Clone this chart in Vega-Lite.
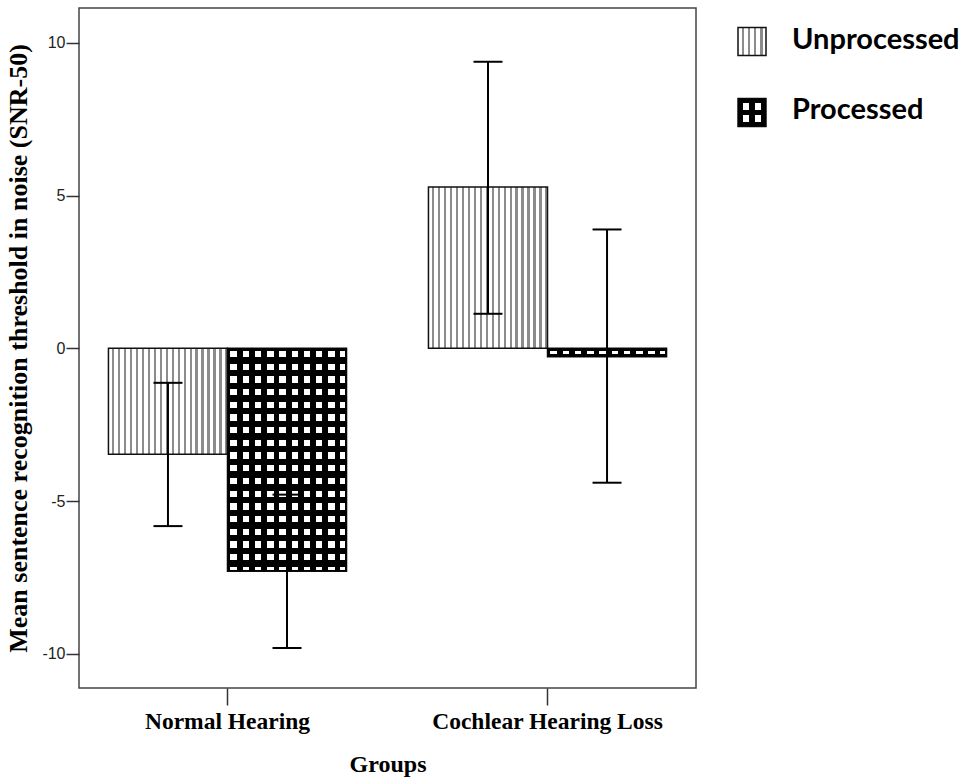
{
  "$schema": "https://vega.github.io/schema/vega-lite/v6.json",
  "background": "white",
  "padding": {"left": 5, "top": 7, "right": 0, "bottom": 0},
  "spacing": 19,
  "config": {
    "view": {"stroke": "#444", "strokeWidth": 1.5},
    "axisY": {
      "grid": false, "domain": false,
      "labelExpr": "'' + datum.value",
      "tickSize": 13, "tickColor": "#333", "tickWidth": 1.5,
      "labelPadding": 1, "labelFont": "Liberation Sans", "labelFontSize": 16, "labelColor": "#222",
      "titleFont": "Liberation Serif", "titleFontSize": 26, "titleFontWeight": "bold", "titleColor": "black",
      "titlePadding": 10
    },
    "axisX": {
      "labelAngle": 0, "domain": false, "labelLimit": 0,
      "tickSize": 17, "tickColor": "#333", "tickWidth": 1.5,
      "labelFont": "Liberation Serif", "labelFontSize": 23.5, "labelFontWeight": "bold", "labelColor": "black",
      "labelPadding": 4,
      "titleFont": "Liberation Serif", "titleFontSize": 24, "titleFontWeight": "bold", "titleColor": "black",
      "titlePadding": 20
    }
  },
  "hconcat": [
    {
      "width": 617,
      "height": 680,
      "data": {"values": [
        {"group": "Normal Hearing", "cond": "Unprocessed", "mean": -3.47, "lower": -5.82, "upper": -1.13},
        {"group": "Normal Hearing", "cond": "Processed", "mean": -7.30, "lower": -9.81, "upper": -4.79},
        {"group": "Cochlear Hearing Loss", "cond": "Unprocessed", "mean": 5.28, "lower": 1.13, "upper": 9.38},
        {"group": "Cochlear Hearing Loss", "cond": "Processed", "mean": -0.28, "lower": -4.40, "upper": 3.89}
      ]},
      "encoding": {
        "x": {
          "field": "group", "type": "nominal", "title": "Groups",
          "sort": ["Normal Hearing", "Cochlear Hearing Loss"],
          "scale": {"paddingInner": 0.256, "paddingOuter": 0.092}
        },
        "xOffset": {
          "field": "cond", "type": "nominal",
          "sort": ["Unprocessed", "Processed"],
          "scale": {"domain": ["Unprocessed", "Processed"], "paddingInner": 0, "paddingOuter": 0}
        }
      },
      "layer": [
        {
          "transform": [{"filter": "datum.cond === 'Unprocessed'"}],
          "mark": {
            "type": "bar", "stroke": "#111", "strokeWidth": 1.5,
            "fill": {"gradient": "linear", "x1": 0, "y1": 0, "x2": 1, "y2": 0, "stops": [
              {"offset": 0, "color": "#ffffff"}, {"offset": 0.031, "color": "#ffffff"}, {"offset": 0.031, "color": "#8c8c8c"}, {"offset": 0.05, "color": "#8c8c8c"},
              {"offset": 0.05, "color": "#ffffff"}, {"offset": 0.081, "color": "#ffffff"}, {"offset": 0.081, "color": "#8c8c8c"}, {"offset": 0.1, "color": "#8c8c8c"},
              {"offset": 0.1, "color": "#ffffff"}, {"offset": 0.131, "color": "#ffffff"}, {"offset": 0.131, "color": "#8c8c8c"}, {"offset": 0.15, "color": "#8c8c8c"},
              {"offset": 0.15, "color": "#ffffff"}, {"offset": 0.181, "color": "#ffffff"}, {"offset": 0.181, "color": "#8c8c8c"}, {"offset": 0.2, "color": "#8c8c8c"},
              {"offset": 0.2, "color": "#ffffff"}, {"offset": 0.231, "color": "#ffffff"}, {"offset": 0.231, "color": "#8c8c8c"}, {"offset": 0.25, "color": "#8c8c8c"},
              {"offset": 0.25, "color": "#ffffff"}, {"offset": 0.281, "color": "#ffffff"}, {"offset": 0.281, "color": "#8c8c8c"}, {"offset": 0.3, "color": "#8c8c8c"},
              {"offset": 0.3, "color": "#ffffff"}, {"offset": 0.331, "color": "#ffffff"}, {"offset": 0.331, "color": "#8c8c8c"}, {"offset": 0.35, "color": "#8c8c8c"},
              {"offset": 0.35, "color": "#ffffff"}, {"offset": 0.381, "color": "#ffffff"}, {"offset": 0.381, "color": "#8c8c8c"}, {"offset": 0.4, "color": "#8c8c8c"},
              {"offset": 0.4, "color": "#ffffff"}, {"offset": 0.431, "color": "#ffffff"}, {"offset": 0.431, "color": "#8c8c8c"}, {"offset": 0.45, "color": "#8c8c8c"},
              {"offset": 0.45, "color": "#ffffff"}, {"offset": 0.481, "color": "#ffffff"}, {"offset": 0.481, "color": "#8c8c8c"}, {"offset": 0.5, "color": "#8c8c8c"},
              {"offset": 0.5, "color": "#ffffff"}, {"offset": 0.531, "color": "#ffffff"}, {"offset": 0.531, "color": "#8c8c8c"}, {"offset": 0.55, "color": "#8c8c8c"},
              {"offset": 0.55, "color": "#ffffff"}, {"offset": 0.581, "color": "#ffffff"}, {"offset": 0.581, "color": "#8c8c8c"}, {"offset": 0.6, "color": "#8c8c8c"},
              {"offset": 0.6, "color": "#ffffff"}, {"offset": 0.631, "color": "#ffffff"}, {"offset": 0.631, "color": "#8c8c8c"}, {"offset": 0.65, "color": "#8c8c8c"},
              {"offset": 0.65, "color": "#ffffff"}, {"offset": 0.681, "color": "#ffffff"}, {"offset": 0.681, "color": "#8c8c8c"}, {"offset": 0.7, "color": "#8c8c8c"},
              {"offset": 0.7, "color": "#ffffff"}, {"offset": 0.731, "color": "#ffffff"}, {"offset": 0.731, "color": "#8c8c8c"}, {"offset": 0.75, "color": "#8c8c8c"},
              {"offset": 0.75, "color": "#ffffff"}, {"offset": 0.781, "color": "#ffffff"}, {"offset": 0.781, "color": "#8c8c8c"}, {"offset": 0.8, "color": "#8c8c8c"},
              {"offset": 0.8, "color": "#ffffff"}, {"offset": 0.831, "color": "#ffffff"}, {"offset": 0.831, "color": "#8c8c8c"}, {"offset": 0.85, "color": "#8c8c8c"},
              {"offset": 0.85, "color": "#ffffff"}, {"offset": 0.881, "color": "#ffffff"}, {"offset": 0.881, "color": "#8c8c8c"}, {"offset": 0.9, "color": "#8c8c8c"},
              {"offset": 0.9, "color": "#ffffff"}, {"offset": 0.931, "color": "#ffffff"}, {"offset": 0.931, "color": "#8c8c8c"}, {"offset": 0.95, "color": "#8c8c8c"},
              {"offset": 0.95, "color": "#ffffff"}, {"offset": 0.981, "color": "#ffffff"}, {"offset": 0.981, "color": "#8c8c8c"}, {"offset": 1, "color": "#8c8c8c"}
            ]}
          },
          "encoding": {
            "y": {
              "field": "mean", "type": "quantitative",
              "title": "Mean sentence recognition threshold in noise (SNR-50)",
              "scale": {"domain": [-11.12, 11.14], "nice": false, "zero": false},
              "axis": {"values": [-10, -5, 0, 5, 10]}
            },
            "y2": {"datum": 0}
          }
        },
        {
          "transform": [{"filter": "datum.cond === 'Processed'"}],
          "mark": {"type": "bar", "fill": "white", "stroke": "#111", "strokeWidth": 1.5},
          "encoding": {"y": {"field": "mean", "type": "quantitative", "title": "Mean sentence recognition threshold in noise (SNR-50)", "axis": {"values": [-10, -5, 0, 5, 10]}}, "y2": {"datum": 0}}
        },
        {
          "transform": [{"filter": "datum.cond === 'Processed'"}],
          "mark": {
            "type": "bar",
            "fill": {"gradient": "linear", "x1": 0, "y1": 0, "x2": 1, "y2": 0, "stops": [
              {"offset": 0, "color": "#000000"}, {"offset": 0.025, "color": "#000000"}, {"offset": 0.025, "color": "rgba(0,0,0,0)"}, {"offset": 0.08, "color": "rgba(0,0,0,0)"},
              {"offset": 0.08, "color": "#000000"}, {"offset": 0.128, "color": "#000000"}, {"offset": 0.128, "color": "rgba(0,0,0,0)"}, {"offset": 0.182, "color": "rgba(0,0,0,0)"},
              {"offset": 0.182, "color": "#000000"}, {"offset": 0.23, "color": "#000000"}, {"offset": 0.23, "color": "rgba(0,0,0,0)"}, {"offset": 0.285, "color": "rgba(0,0,0,0)"},
              {"offset": 0.285, "color": "#000000"}, {"offset": 0.333, "color": "#000000"}, {"offset": 0.333, "color": "rgba(0,0,0,0)"}, {"offset": 0.387, "color": "rgba(0,0,0,0)"},
              {"offset": 0.387, "color": "#000000"}, {"offset": 0.435, "color": "#000000"}, {"offset": 0.435, "color": "rgba(0,0,0,0)"}, {"offset": 0.49, "color": "rgba(0,0,0,0)"},
              {"offset": 0.49, "color": "#000000"}, {"offset": 0.538, "color": "#000000"}, {"offset": 0.538, "color": "rgba(0,0,0,0)"}, {"offset": 0.592, "color": "rgba(0,0,0,0)"},
              {"offset": 0.592, "color": "#000000"}, {"offset": 0.64, "color": "#000000"}, {"offset": 0.64, "color": "rgba(0,0,0,0)"}, {"offset": 0.695, "color": "rgba(0,0,0,0)"},
              {"offset": 0.695, "color": "#000000"}, {"offset": 0.743, "color": "#000000"}, {"offset": 0.743, "color": "rgba(0,0,0,0)"}, {"offset": 0.798, "color": "rgba(0,0,0,0)"},
              {"offset": 0.798, "color": "#000000"}, {"offset": 0.845, "color": "#000000"}, {"offset": 0.845, "color": "rgba(0,0,0,0)"}, {"offset": 0.9, "color": "rgba(0,0,0,0)"},
              {"offset": 0.9, "color": "#000000"}, {"offset": 0.948, "color": "#000000"}, {"offset": 0.948, "color": "rgba(0,0,0,0)"}, {"offset": 0.99, "color": "rgba(0,0,0,0)"},
              {"offset": 0.99, "color": "#000000"}, {"offset": 1, "color": "#000000"}
            ]}
          },
          "encoding": {"y": {"field": "mean", "type": "quantitative", "title": "Mean sentence recognition threshold in noise (SNR-50)", "axis": {"values": [-10, -5, 0, 5, 10]}}, "y2": {"datum": 0}}
        },
        {
          "transform": [{"filter": "datum.cond === 'Processed' && datum.group === 'Normal Hearing'"}],
          "mark": {
            "type": "bar",
            "fill": {"gradient": "linear", "x1": 0, "y1": 0, "x2": 0, "y2": 1, "stops": [
              {"offset": 0, "color": "#000000"}, {"offset": 0.0112, "color": "#000000"}, {"offset": 0.0112, "color": "rgba(0,0,0,0)"}, {"offset": 0.0395, "color": "rgba(0,0,0,0)"},
              {"offset": 0.0395, "color": "#000000"}, {"offset": 0.0682, "color": "#000000"}, {"offset": 0.0682, "color": "rgba(0,0,0,0)"}, {"offset": 0.0964, "color": "rgba(0,0,0,0)"},
              {"offset": 0.0964, "color": "#000000"}, {"offset": 0.1251, "color": "#000000"}, {"offset": 0.1251, "color": "rgba(0,0,0,0)"}, {"offset": 0.1534, "color": "rgba(0,0,0,0)"},
              {"offset": 0.1534, "color": "#000000"}, {"offset": 0.1821, "color": "#000000"}, {"offset": 0.1821, "color": "rgba(0,0,0,0)"}, {"offset": 0.2103, "color": "rgba(0,0,0,0)"},
              {"offset": 0.2103, "color": "#000000"}, {"offset": 0.239, "color": "#000000"}, {"offset": 0.239, "color": "rgba(0,0,0,0)"}, {"offset": 0.2673, "color": "rgba(0,0,0,0)"},
              {"offset": 0.2673, "color": "#000000"}, {"offset": 0.296, "color": "#000000"}, {"offset": 0.296, "color": "rgba(0,0,0,0)"}, {"offset": 0.3242, "color": "rgba(0,0,0,0)"},
              {"offset": 0.3242, "color": "#000000"}, {"offset": 0.3529, "color": "#000000"}, {"offset": 0.3529, "color": "rgba(0,0,0,0)"}, {"offset": 0.3812, "color": "rgba(0,0,0,0)"},
              {"offset": 0.3812, "color": "#000000"}, {"offset": 0.4099, "color": "#000000"}, {"offset": 0.4099, "color": "rgba(0,0,0,0)"}, {"offset": 0.4381, "color": "rgba(0,0,0,0)"},
              {"offset": 0.4381, "color": "#000000"}, {"offset": 0.4668, "color": "#000000"}, {"offset": 0.4668, "color": "rgba(0,0,0,0)"}, {"offset": 0.4951, "color": "rgba(0,0,0,0)"},
              {"offset": 0.4951, "color": "#000000"}, {"offset": 0.5238, "color": "#000000"}, {"offset": 0.5238, "color": "rgba(0,0,0,0)"}, {"offset": 0.552, "color": "rgba(0,0,0,0)"},
              {"offset": 0.552, "color": "#000000"}, {"offset": 0.5807, "color": "#000000"}, {"offset": 0.5807, "color": "rgba(0,0,0,0)"}, {"offset": 0.609, "color": "rgba(0,0,0,0)"},
              {"offset": 0.609, "color": "#000000"}, {"offset": 0.6377, "color": "#000000"}, {"offset": 0.6377, "color": "rgba(0,0,0,0)"}, {"offset": 0.6659, "color": "rgba(0,0,0,0)"},
              {"offset": 0.6659, "color": "#000000"}, {"offset": 0.6946, "color": "#000000"}, {"offset": 0.6946, "color": "rgba(0,0,0,0)"}, {"offset": 0.7229, "color": "rgba(0,0,0,0)"},
              {"offset": 0.7229, "color": "#000000"}, {"offset": 0.7516, "color": "#000000"}, {"offset": 0.7516, "color": "rgba(0,0,0,0)"}, {"offset": 0.7798, "color": "rgba(0,0,0,0)"},
              {"offset": 0.7798, "color": "#000000"}, {"offset": 0.8085, "color": "#000000"}, {"offset": 0.8085, "color": "rgba(0,0,0,0)"}, {"offset": 0.8368, "color": "rgba(0,0,0,0)"},
              {"offset": 0.8368, "color": "#000000"}, {"offset": 0.8655, "color": "#000000"}, {"offset": 0.8655, "color": "rgba(0,0,0,0)"}, {"offset": 0.8937, "color": "rgba(0,0,0,0)"},
              {"offset": 0.8937, "color": "#000000"}, {"offset": 0.9224, "color": "#000000"}, {"offset": 0.9224, "color": "rgba(0,0,0,0)"}, {"offset": 0.9507, "color": "rgba(0,0,0,0)"},
              {"offset": 0.9507, "color": "#000000"}, {"offset": 0.9794, "color": "#000000"}, {"offset": 0.9794, "color": "rgba(0,0,0,0)"}, {"offset": 0.995, "color": "rgba(0,0,0,0)"},
              {"offset": 0.995, "color": "#000000"}, {"offset": 1, "color": "#000000"}
            ]}
          },
          "encoding": {"y": {"field": "mean", "type": "quantitative", "title": "Mean sentence recognition threshold in noise (SNR-50)", "axis": {"values": [-10, -5, 0, 5, 10]}}, "y2": {"datum": 0}}
        },
        {
          "transform": [{"filter": "datum.cond === 'Processed' && datum.group === 'Cochlear Hearing Loss'"}],
          "mark": {
            "type": "bar",
            "fill": {"gradient": "linear", "x1": 0, "y1": 0, "x2": 0, "y2": 1, "stops": [
              {"offset": 0, "color": "#000000"}, {"offset": 0.36, "color": "#000000"}, {"offset": 0.36, "color": "rgba(0,0,0,0)"}, {"offset": 0.64, "color": "rgba(0,0,0,0)"},
              {"offset": 0.64, "color": "#000000"}, {"offset": 1, "color": "#000000"}
            ]}
          },
          "encoding": {"y": {"field": "mean", "type": "quantitative", "title": "Mean sentence recognition threshold in noise (SNR-50)", "axis": {"values": [-10, -5, 0, 5, 10]}}, "y2": {"datum": 0}}
        },
        {
          "mark": {"type": "rule", "color": "black", "strokeWidth": 2},
          "encoding": {"y": {"field": "lower", "type": "quantitative", "title": "Mean sentence recognition threshold in noise (SNR-50)", "axis": {"values": [-10, -5, 0, 5, 10]}}, "y2": {"field": "upper"}}
        },
        {
          "mark": {"type": "tick", "color": "black", "size": 29, "thickness": 2, "opacity": 1},
          "encoding": {"y": {"field": "lower", "type": "quantitative", "title": "Mean sentence recognition threshold in noise (SNR-50)", "axis": {"values": [-10, -5, 0, 5, 10]}}}
        },
        {
          "mark": {"type": "tick", "color": "black", "size": 29, "thickness": 2, "opacity": 1},
          "encoding": {"y": {"field": "upper", "type": "quantitative", "title": "Mean sentence recognition threshold in noise (SNR-50)", "axis": {"values": [-10, -5, 0, 5, 10]}}}
        }
      ]
    },
    {
      "width": 72,
      "height": 138,
      "view": {"stroke": null, "fill": "white"},
      "data": {"values": [{"cond": "Unprocessed"}, {"cond": "Processed"}]},
      "encoding": {
        "y": {"field": "cond", "type": "nominal", "sort": ["Unprocessed", "Processed"], "scale": {"type": "point", "padding": 0.472}, "axis": null}
      },
      "layer": [
        {
          "transform": [{"filter": "datum.cond === 'Unprocessed'"}],
          "mark": {
            "type": "square", "size": 784, "opacity": 1, "stroke": "#111", "strokeWidth": 1.5,
            "fill": {"gradient": "linear", "x1": 0, "y1": 0, "x2": 1, "y2": 0, "stops": [
              {"offset": 0, "color": "#ffffff"}, {"offset": 0.13, "color": "#ffffff"}, {"offset": 0.13, "color": "#8c8c8c"}, {"offset": 0.22, "color": "#8c8c8c"},
              {"offset": 0.22, "color": "#ffffff"}, {"offset": 0.35, "color": "#ffffff"}, {"offset": 0.35, "color": "#8c8c8c"}, {"offset": 0.44, "color": "#8c8c8c"},
              {"offset": 0.44, "color": "#ffffff"}, {"offset": 0.57, "color": "#ffffff"}, {"offset": 0.57, "color": "#8c8c8c"}, {"offset": 0.66, "color": "#8c8c8c"},
              {"offset": 0.66, "color": "#ffffff"}, {"offset": 0.79, "color": "#ffffff"}, {"offset": 0.79, "color": "#8c8c8c"}, {"offset": 0.88, "color": "#8c8c8c"},
              {"offset": 0.88, "color": "#ffffff"}, {"offset": 1, "color": "#ffffff"}
            ]}
          }
        },
        {
          "transform": [{"filter": "datum.cond === 'Processed'"}],
          "mark": {"type": "square", "size": 784, "opacity": 1, "fill": "white", "stroke": "#111", "strokeWidth": 1.5}
        },
        {
          "transform": [{"filter": "datum.cond === 'Processed'"}],
          "mark": {
            "type": "square", "size": 784, "opacity": 1,
            "fill": {"gradient": "linear", "x1": 0, "y1": 0, "x2": 1, "y2": 0, "stops": [
              {"offset": 0, "color": "#000000"}, {"offset": 0.17, "color": "#000000"}, {"offset": 0.17, "color": "rgba(0,0,0,0)"}, {"offset": 0.41, "color": "rgba(0,0,0,0)"},
              {"offset": 0.41, "color": "#000000"}, {"offset": 0.59, "color": "#000000"}, {"offset": 0.59, "color": "rgba(0,0,0,0)"}, {"offset": 0.83, "color": "rgba(0,0,0,0)"},
              {"offset": 0.83, "color": "#000000"}, {"offset": 1, "color": "#000000"}
            ]}
          }
        },
        {
          "transform": [{"filter": "datum.cond === 'Processed'"}],
          "mark": {
            "type": "square", "size": 784, "opacity": 1,
            "fill": {"gradient": "linear", "x1": 0, "y1": 0, "x2": 0, "y2": 1, "stops": [
              {"offset": 0, "color": "#000000"}, {"offset": 0.17, "color": "#000000"}, {"offset": 0.17, "color": "rgba(0,0,0,0)"}, {"offset": 0.41, "color": "rgba(0,0,0,0)"},
              {"offset": 0.41, "color": "#000000"}, {"offset": 0.59, "color": "#000000"}, {"offset": 0.59, "color": "rgba(0,0,0,0)"}, {"offset": 0.83, "color": "rgba(0,0,0,0)"},
              {"offset": 0.83, "color": "#000000"}, {"offset": 1, "color": "#000000"}
            ]}
          }
        },
        {
          "mark": {"type": "text", "align": "left", "baseline": "alphabetic", "dx": 40, "dy": 7, "font": "Lato", "fontWeight": "bold", "fontSize": 29, "color": "black"},
          "encoding": {"text": {"field": "cond"}}
        }
      ]
    }
  ]
}
